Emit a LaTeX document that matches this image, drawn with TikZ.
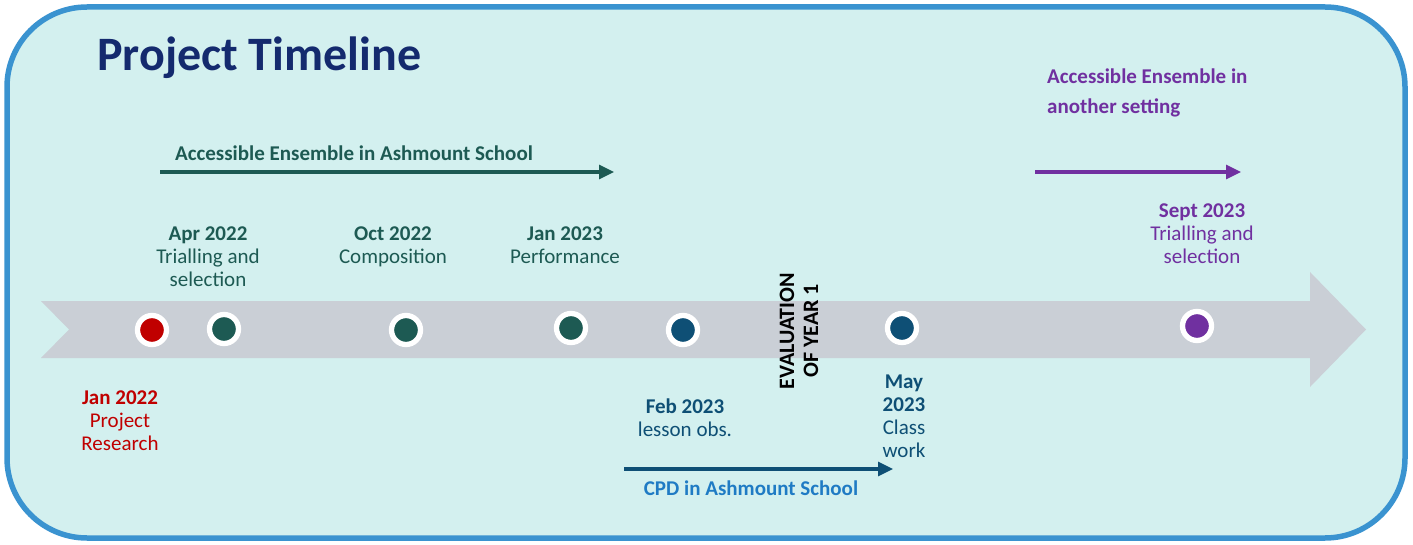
\documentclass[tikz,border=0pt]{standalone}
\usepackage{fontspec}
\setmainfont{Carlito}
\usetikzlibrary{arrows.meta}

\definecolor{bgC}{HTML}{D3F0EF}
\definecolor{frameC}{HTML}{3A93D0}
\definecolor{bandC}{HTML}{CACFD6}
\definecolor{titleC}{HTML}{142A6E}
\definecolor{grnC}{HTML}{1D5A53}
\definecolor{redC}{HTML}{C00000}
\definecolor{bluC}{HTML}{0E4F75}
\definecolor{cpdC}{HTML}{1F7BC4}
\definecolor{purC}{HTML}{7030A0}

\tikzstyle{dS}=[circle,minimum size = 29pt,inner sep = 0pt,draw=white,line width=5.3pt]
\tikzstyle{tS}=[inner sep = 0pt,align=center,font=\fontsize{21}{23}\selectfont]
\tikzstyle{hS}=[inner sep = 0pt,font=\fontsize{21}{23}\selectfont\bfseries]
\tikzstyle{aS}=[line width=3.2pt,-{Triangle[length=15pt,width=14pt]}]

\begin{document}
\begin{tikzpicture}[x=1pt,y=-1pt]
                \useasboundingbox (0,0) rectangle (1413,545);
                \draw[line width=5.5pt,draw=frameC,fill=bgC,rounded corners=80pt] (7,7) rectangle (1405,538);
                % timeline band
                \fill[bandC] (41,301) -- (1310,301) -- (1310,272) -- (1366,329.5) -- (1310,387)
                    -- (1310,358) -- (41,358) -- (69,329.5) -- cycle;

                \draw (97,58) node[anchor=west,inner sep=0pt,font=\fontsize{48}{52}\selectfont\bfseries,text=titleC] (title) {Project Timeline};

                \draw (354,153) node[hS,text=grnC] (ensA) {Accessible Ensemble in Ashmount School};
                \draw (1047,93) node[anchor=west,inner sep=0pt,align=left,font=\fontsize{21}{30}\selectfont\bfseries,text=purC] (ensB) {Accessible Ensemble in\\another setting};
                \draw (751,488) node[hS,text=cpdC] (cpd) {CPD in Ashmount School};

                \coordinate (a0) at (160,172); \coordinate (a1) at (614,172);
                \coordinate (b0) at (1035,172); \coordinate (b1) at (1241,172);
                \coordinate (c0) at (624,469); \coordinate (c1) at (893,469);

                \draw (152,330) node[dS,fill=redC] (d0) {};
                \draw (224,329) node[dS,fill=grnC] (d1) {};
                \draw (406,330) node[dS,fill=grnC] (d2) {};
                \draw (571,328) node[dS,fill=grnC] (d3) {};
                \draw (683,330) node[dS,fill=bluC] (d4) {};
                \draw (902,328) node[dS,fill=bluC] (d5) {};
                \draw (1197,326) node[dS,fill=purC] (d6) {};

                \draw (208,257) node[tS,text=grnC] (t1) {\textbf{Apr 2022}\\Trialling and\\selection};
                \draw (393,247) node[tS,text=grnC] (t2) {\textbf{Oct 2022}\\Composition};
                \draw (565,245) node[tS,text=grnC] (t3) {\textbf{Jan 2023}\\Performance};
                \draw (1202,234) node[tS,text=purC] (t6) {\textbf{Sept 2023}\\Trialling and\\selection};
                \draw (120,421) node[tS,text=redC] (t0) {\textbf{Jan 2022}\\Project\\Research};
                \draw (685,418) node[tS,text=bluC] (t4) {\textbf{Feb 2023}\\lesson obs.};
                \draw (904,416) node[tS,text=bluC] (t5) {\textbf{May}\\\textbf{2023}\\Class\\work};
                \draw (799,331) node[tS,rotate=90,font=\fontsize{22}{24}\selectfont\bfseries] (eval) {EVALUATION\\OF YEAR 1};

                \path
                    (a0) edge[aS,draw=grnC,fill=grnC] (a1)
                    (b0) edge[aS,draw=purC,fill=purC] (b1)
                    (c0) edge[aS,draw=bluC,fill=bluC] (c1)
                ;
        \end{tikzpicture}
\end{document}
